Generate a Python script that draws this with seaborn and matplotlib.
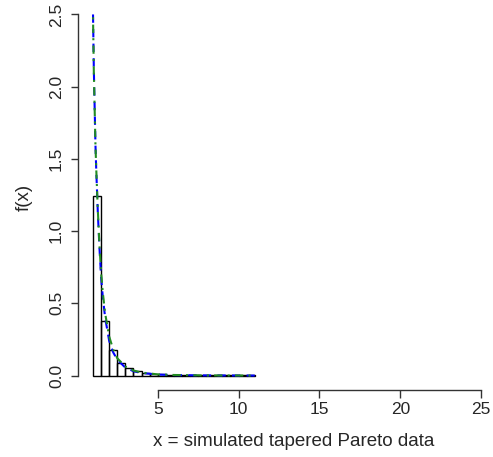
import numpy as np
import pandas as pd
import matplotlib
matplotlib.use("Agg")
import matplotlib.pyplot as plt
import seaborn as sns

# ---- data ----
bin_edges = [1.0, 1.5, 2.0, 2.5, 3.0, 3.5, 4.0, 4.5, 5.0, 5.5, 6.0,
             6.5, 7.0, 7.5, 8.0, 8.5, 9.0, 9.5, 10.0, 10.5, 11.0]
bin_density = [1.24, 0.38, 0.18, 0.09, 0.05, 0.03, 0.02, 0.012, 0.008, 0.006,
               0.004, 0.003, 0.002, 0.002, 0.001, 0.001, 0.001, 0.0005, 0.0005, 0.0005]

curve_x = [1.0, 1.05, 1.1, 1.15, 1.2, 1.25, 1.3, 1.4, 1.5, 1.6, 1.75, 2.0,
           2.25, 2.5, 3.0, 3.5, 4.0, 5.0, 6.0, 8.0, 11.0]
blue_f = [2.50, 2.12, 1.86, 1.60, 1.42, 1.27, 1.12, 0.88, 0.68, 0.55, 0.40, 0.24,
          0.16, 0.11, 0.055, 0.03, 0.018, 0.007, 0.003, 0.001, 0.0]
green_f = [2.48, 2.10, 1.85, 1.60, 1.43, 1.28, 1.14, 0.90, 0.71, 0.58, 0.43, 0.27,
           0.18, 0.12, 0.062, 0.035, 0.021, 0.008, 0.004, 0.001, 0.0]

x_ticks = [5, 10, 15, 20, 25]
y_ticks = [0.0, 0.5, 1.0, 1.5, 2.0, 2.5]
x_label = "x = simulated tapered Pareto data"
y_label = "f(x)"

# ---- plotting ----
sns.set_style("white")
plt.rcParams['font.family'] = ['Liberation Sans', 'DejaVu Sans']

W, H = 493, 457
dpi = 100
fig = plt.figure(figsize=(W / dpi, H / dpi), dpi=dpi)
left_px, bottom_px = 77.5, 390
ax_w_px, ax_h_px = W - left_px, bottom_px
ax = fig.add_axes([left_px / W, (H - bottom_px) / H, ax_w_px / W, ax_h_px / H])

centers = [(a + b) / 2 for a, b in zip(bin_edges[:-1], bin_edges[1:])]
hist_df = pd.DataFrame({"x": centers, "w": bin_density})
sns.histplot(data=hist_df, x="x", weights="w", bins=bin_edges, stat="count",
             fill=False, color="black", linewidth=1.0, ax=ax)

curve_df = pd.DataFrame({"x": curve_x, "blue": blue_f, "green": green_f})
sns.lineplot(data=curve_df, x="x", y="blue", color="blue", linewidth=1.5,
             linestyle=(0, (4, 3)), ax=ax, sort=False)
sns.lineplot(data=curve_df, x="x", y="green", color="#228B22", linewidth=1.5,
             linestyle=(0, (1, 2.5, 4, 2.5)), ax=ax, sort=False)

px_per_x = 16.17
ax.set_xlim(0.04, 0.04 + ax_w_px / px_per_x)
ax.set_ylim(-0.1, 2.6)

for s in ["top", "right"]:
    ax.spines[s].set_visible(False)
for s in ["left", "bottom"]:
    ax.spines[s].set_color("#333333")
    ax.spines[s].set_linewidth(1.0)
ax.spines["bottom"].set_bounds(5, 25)
ax.spines["left"].set_bounds(0, 2.5)

ax.set_xticks(x_ticks)
ax.set_xticklabels([str(t) for t in x_ticks])
ax.set_yticks(y_ticks)
ax.set_yticklabels([f"{t:.1f}" for t in y_ticks], rotation=90, va="center")
ax.tick_params(axis="both", direction="out", length=5.4, width=1.0, color="#333333",
               labelsize=12.5, left=True, bottom=True)
ax.tick_params(axis="x", pad=3.2)
ax.tick_params(axis="y", pad=4.3)

ax.set_xlabel(x_label, fontsize=13.5, va="baseline", ha="center")
ax.xaxis.set_label_coords((294 - left_px) / ax_w_px, (bottom_px - 446) / ax_h_px)
ax.set_ylabel(y_label, fontsize=13.5, va="baseline", ha="center")
ax.yaxis.set_label_coords((28.5 - left_px) / ax_w_px, (bottom_px - 197) / ax_h_px)

fig.savefig("out.png", dpi=dpi)
